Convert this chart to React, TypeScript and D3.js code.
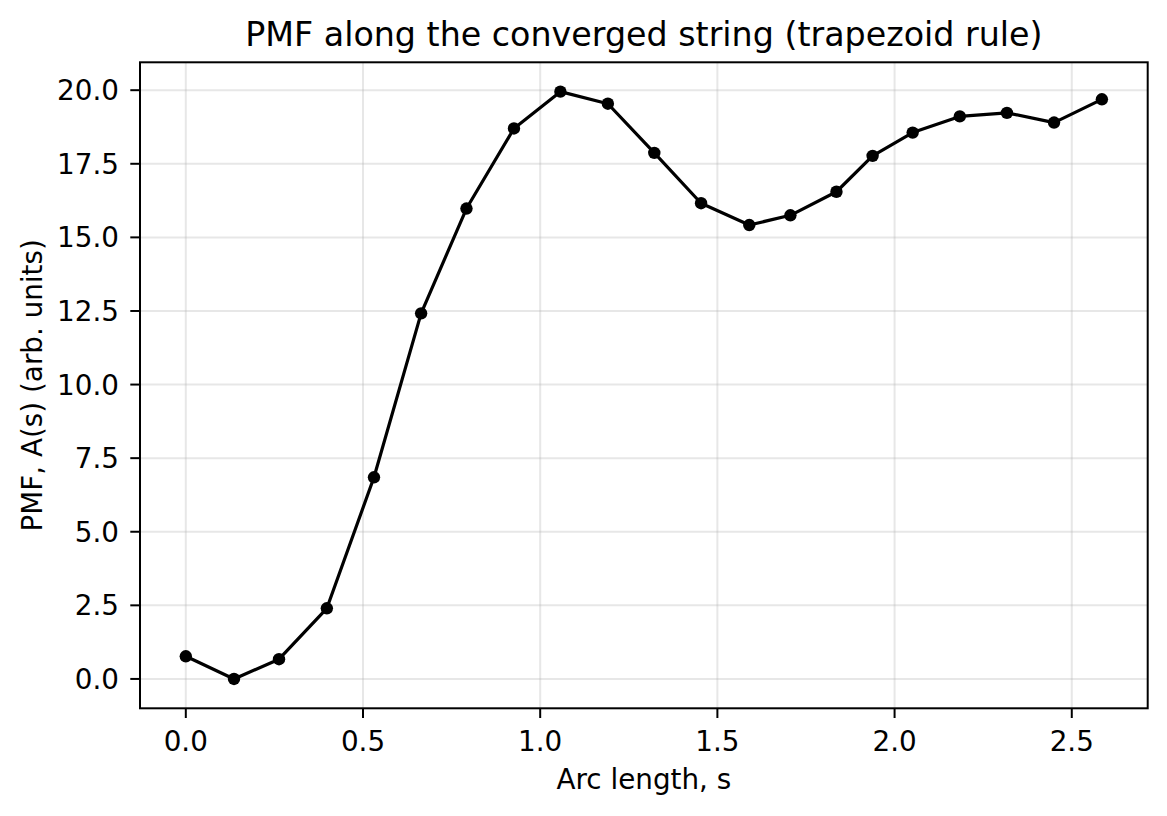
import React from 'react';
import * as d3 from 'd3';

const arcLength = [0, 0.136, 0.263, 0.398, 0.531, 0.664, 0.792, 0.926, 1.057, 1.191, 1.322, 1.454, 1.59, 1.706, 1.836, 1.938, 2.051, 2.184, 2.317, 2.45, 2.585];
const pmf = [0.77, 0.0, 0.67, 2.4, 6.85, 12.42, 15.98, 18.7, 19.95, 19.54, 17.87, 16.16, 15.42, 15.75, 16.55, 17.77, 18.56, 19.11, 19.23, 18.9, 19.69];
const xTicks = [0, 0.5, 1.0, 1.5, 2.0, 2.5];
const yTicks = [0, 2.5, 5, 7.5, 10, 12.5, 15, 17.5, 20];

const W = 1167;
const H = 816;
const FONT = 'DejaVu Sans, sans-serif';

export default function App() {
  const m = { left: 140, right: 1147.7, top: 62.3, bottom: 708.3 };
  const pts = arcLength.map((s, i) => ({ s, a: pmf[i] }));

  // matplotlib-style 5% margins
  const [x0, x1] = d3.extent(arcLength) as [number, number];
  const [y0, y1] = d3.extent(pmf) as [number, number];
  const dx = (x1 - x0) * 0.05;
  const dy = (y1 - y0) * 0.05;
  const x = d3.scaleLinear().domain([x0 - dx, x1 + dx]).range([m.left, m.right]);
  const y = d3.scaleLinear().domain([y0 - dy, y1 + dy]).range([m.bottom, m.top]);

  const line = d3.line<{ s: number; a: number }>().x(d => x(d.s)).y(d => y(d.a));

  return (
    <div style={{ position: 'absolute', left: 0, top: 0 }}>
      <svg width={W} height={H} style={{ display: 'block', background: '#fff' }} fontFamily={FONT}>
        {/* grid */}
        <g stroke="#b0b0b0" strokeOpacity={0.3} strokeWidth={2}>
          {xTicks.map(t => <line key={'gx' + t} x1={x(t)} x2={x(t)} y1={m.top} y2={m.bottom} />)}
          {yTicks.map(t => <line key={'gy' + t} x1={m.left} x2={m.right} y1={y(t)} y2={y(t)} />)}
        </g>

        <path d={line(pts) || ''} fill="none" stroke="#000" strokeWidth={3.2} strokeLinejoin="round" />
        {pts.map((d, i) => <circle key={i} cx={x(d.s)} cy={y(d.a)} r={6.2} fill="#000" />)}

        {/* frame */}
        <rect x={m.left} y={m.top} width={m.right - m.left} height={m.bottom - m.top} fill="none" stroke="#000" strokeWidth={2} />

        {/* x ticks */}
        {xTicks.map(t => (
          <g key={'xt' + t}>
            <line x1={x(t)} x2={x(t)} y1={m.bottom} y2={m.bottom + 9.7} stroke="#000" strokeWidth={2} />
            <text x={x(t)} y={751} textAnchor="middle" fontSize={27.8}>{t.toFixed(1)}</text>
          </g>
        ))}
        {/* y ticks */}
        {yTicks.map(t => (
          <g key={'yt' + t}>
            <line x1={m.left - 9.7} x2={m.left} y1={y(t)} y2={y(t)} stroke="#000" strokeWidth={2} />
            <text x={119} y={y(t)} dy="0.36em" textAnchor="end" fontSize={27.8}>{t.toFixed(1)}</text>
          </g>
        ))}

        <text x={(m.left + m.right) / 2} y={45.7} textAnchor="middle" fontSize={33.3}>PMF along the converged string (trapezoid rule)</text>
        <text x={(m.left + m.right) / 2} y={789.3} textAnchor="middle" fontSize={27.8}>Arc length, s</text>
        <text transform={`translate(41.7,${(m.top + m.bottom) / 2}) rotate(-90)`} textAnchor="middle" fontSize={27.8}>PMF, A(s) (arb. units)</text>
      </svg>
    </div>
  );
}
